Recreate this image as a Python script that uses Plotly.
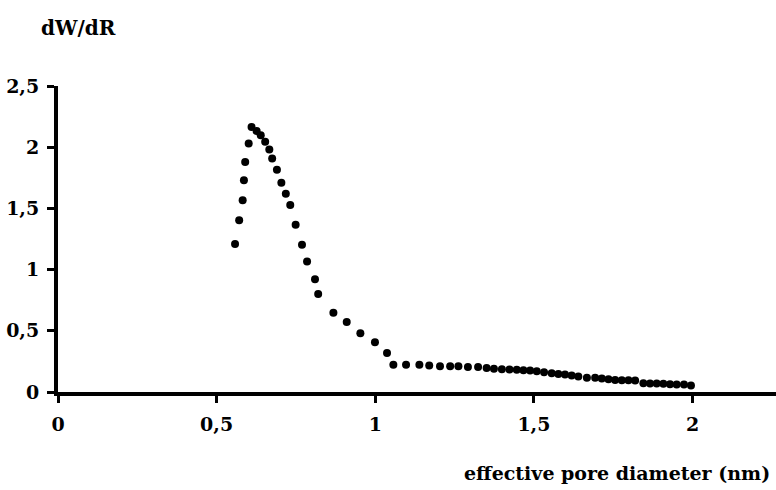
import plotly.graph_objects as go

# effective pore diameter (nm)
diameter = [0.558, 0.571, 0.582, 0.586, 0.590, 0.601, 0.610, 0.626, 0.639, 0.653,
            0.666, 0.675, 0.690, 0.704, 0.718, 0.732, 0.749, 0.769, 0.785, 0.810,
            0.820, 0.868, 0.910, 0.953, 0.999, 1.037, 1.057, 1.097, 1.139, 1.170,
            1.204, 1.236, 1.262, 1.292, 1.324, 1.351, 1.374, 1.399, 1.423, 1.446,
            1.467, 1.488, 1.509, 1.532, 1.556, 1.577, 1.598, 1.619, 1.640, 1.667,
            1.693, 1.714, 1.735, 1.756, 1.777, 1.798, 1.819, 1.845, 1.866, 1.887,
            1.908, 1.929, 1.950, 1.973, 1.995]
# dW/dR
dwdr = [1.210, 1.403, 1.566, 1.731, 1.880, 2.030, 2.165, 2.133, 2.098, 2.044,
        1.982, 1.907, 1.815, 1.709, 1.620, 1.527, 1.367, 1.204, 1.066, 0.922,
        0.800, 0.648, 0.572, 0.479, 0.406, 0.319, 0.222, 0.222, 0.222, 0.216,
        0.211, 0.211, 0.211, 0.205, 0.205, 0.197, 0.189, 0.186, 0.183, 0.181,
        0.178, 0.175, 0.170, 0.161, 0.153, 0.148, 0.142, 0.134, 0.126, 0.116,
        0.116, 0.110, 0.104, 0.099, 0.096, 0.096, 0.093, 0.072, 0.069, 0.069,
        0.067, 0.064, 0.061, 0.061, 0.053]

x_tickvals = [0, 0.5, 1, 1.5, 2]
x_ticktext = ["0", "0,5", "1", "1,5", "2"]
y_tickvals = [0, 0.5, 1, 1.5, 2, 2.5]
y_ticktext = ["0", "0,5", "1", "1,5", "2", "2,5"]

FONT = "DejaVu Serif"

fig = go.Figure()
fig.add_trace(go.Scatter(
    x=diameter, y=dwdr, mode="markers",
    marker=dict(size=8, color="black"),
    cliponaxis=False, showlegend=False,
))

fig.update_layout(
    width=776, height=490,
    margin=dict(l=58, r=0, t=86, b=98),
    paper_bgcolor="white", plot_bgcolor="white",
    font=dict(family=FONT, color="black"),
    xaxis=dict(
        range=[0, 2.263], showgrid=False, zeroline=False,
        showline=True, linecolor="black", linewidth=4,
        ticks="outside", ticklen=7, tickwidth=3, tickcolor="black",
        tickvals=x_tickvals, ticktext=x_ticktext,
        tickfont=dict(family=FONT, size=19, weight="bold"),
        ticklabelstandoff=5,
    ),
    yaxis=dict(
        range=[0, 2.5], showgrid=False, zeroline=False,
        showline=True, linecolor="black", linewidth=4,
        ticks="outside", ticklen=7, tickwidth=3, tickcolor="black",
        tickvals=y_tickvals, ticktext=y_ticktext,
        tickfont=dict(family=FONT, size=19, weight="bold"),
        ticklabelstandoff=4,
    ),
    annotations=[
        dict(text="dW/dR", xref="paper", yref="paper", x=-0.027, y=1.191,
             xanchor="left", yanchor="middle", showarrow=False,
             font=dict(family=FONT, size=20, weight="bold")),
        dict(text="effective pore diameter (nm)", xref="paper", yref="paper",
             x=0.994, y=-0.2656, xanchor="right", yanchor="middle", showarrow=False,
             font=dict(family=FONT, size=19, weight="bold")),
    ],
)

fig.write_html("out.html", config={"displayModeBar": False},
               post_script="document.body.style.margin='0';")
